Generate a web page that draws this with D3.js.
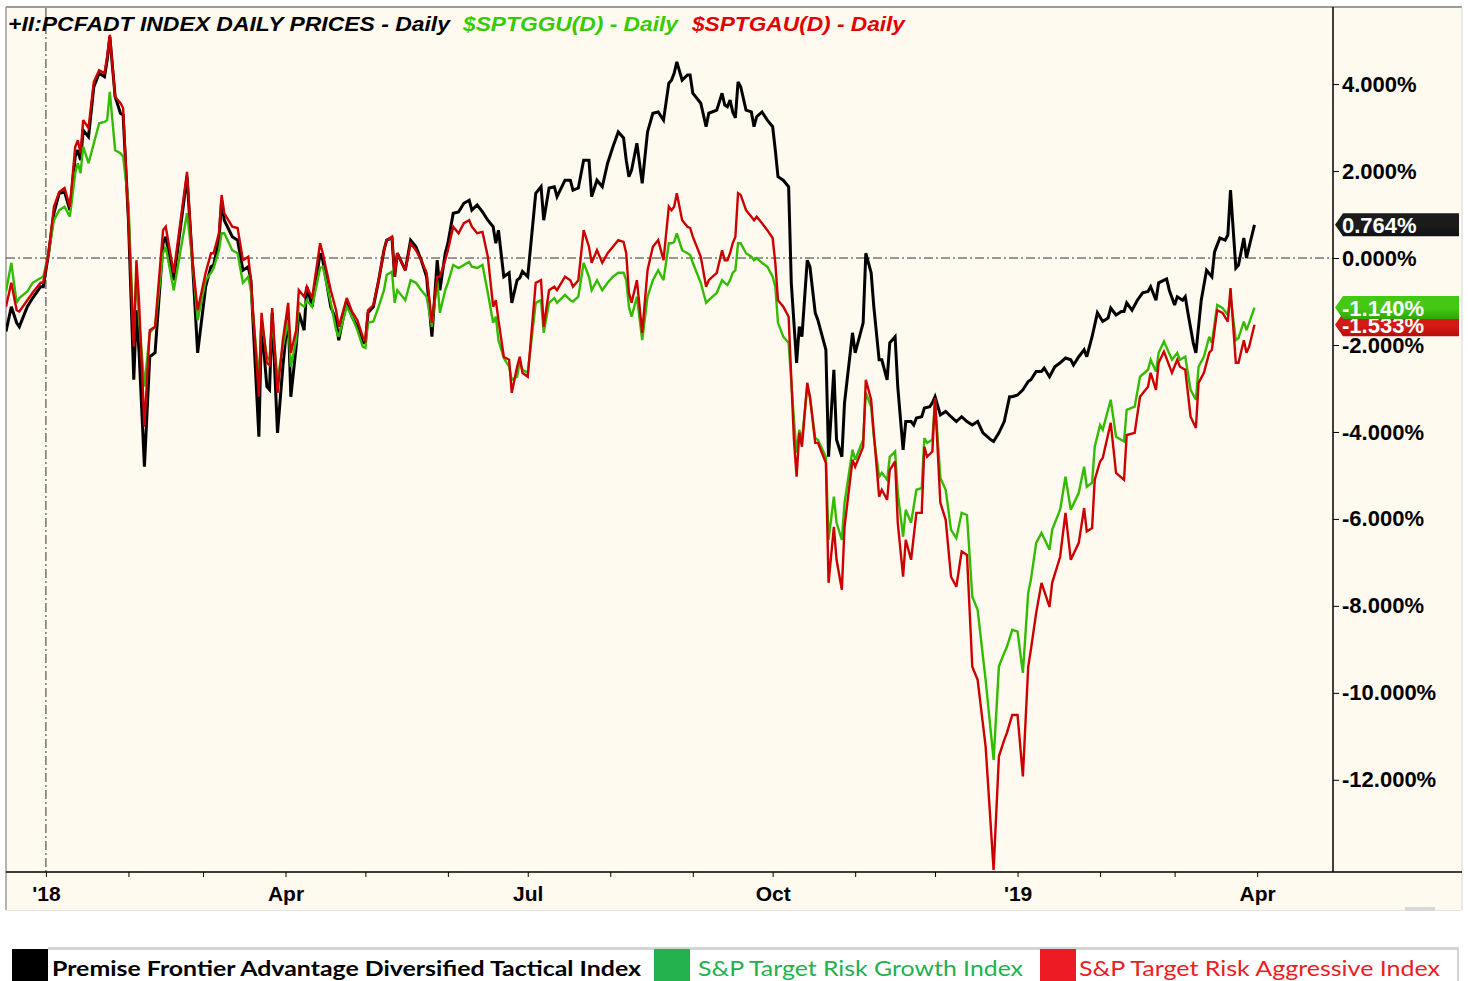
<!DOCTYPE html>
<html>
<head>
<meta charset="utf-8">
<script src="https://cdn.jsdelivr.net/npm/d3@7"></script>
<style>
  body { margin: 0; background: #fff; }
  svg { display: block; }
  .axis text { font-family: "Liberation Sans", Arial, sans-serif; font-weight: bold; fill: #000; }
</style>
</head>
<body>
<svg id="chart" width="1468" height="981"></svg>
<script>
// ---- data (percent change from start) ----
// part 1: shared dates for all three series, Dec 2017 - early Oct 2018
const datesPart1 = [
  "2017-12-17","2017-12-19","2017-12-21","2017-12-22","2017-12-25","2017-12-27","2017-12-30","2017-12-31","2018-01-02","2018-01-04",
  "2018-01-06","2018-01-08","2018-01-10","2018-01-12","2018-01-13","2018-01-14","2018-01-15","2018-01-17","2018-01-19","2018-01-21",
  "2018-01-23","2018-01-24","2018-01-25","2018-01-27","2018-01-29","2018-01-30","2018-02-01","2018-02-03","2018-02-04","2018-02-05",
  "2018-02-07","2018-02-09","2018-02-11","2018-02-14","2018-02-15","2018-02-18","2018-02-23","2018-02-25","2018-02-27","2018-03-02",
  "2018-03-04","2018-03-05","2018-03-07","2018-03-08","2018-03-09","2018-03-12","2018-03-14","2018-03-16","2018-03-18","2018-03-19",
  "2018-03-22","2018-03-23","2018-03-25","2018-03-26","2018-03-27","2018-03-29","2018-03-31","2018-04-02","2018-04-03","2018-04-05",
  "2018-04-06","2018-04-08","2018-04-09","2018-04-11","2018-04-14","2018-04-15","2018-04-18","2018-04-20","2018-04-21","2018-04-24",
  "2018-04-26","2018-04-28","2018-04-30","2018-05-01","2018-05-02","2018-05-04","2018-05-06","2018-05-08","2018-05-09","2018-05-11",
  "2018-05-12","2018-05-13","2018-05-16","2018-05-18","2018-05-20","2018-05-22","2018-05-24","2018-05-26","2018-05-28","2018-05-29",
  "2018-05-31","2018-06-01","2018-06-03","2018-06-05","2018-06-07","2018-06-09","2018-06-10","2018-06-12","2018-06-14","2018-06-16",
  "2018-06-18","2018-06-19","2018-06-20","2018-06-22","2018-06-24","2018-06-25","2018-06-27",
  "2018-06-28","2018-06-29","2018-07-01","2018-07-04","2018-07-06","2018-07-07","2018-07-09","2018-07-11","2018-07-12","2018-07-15",
  "2018-07-17","2018-07-18","2018-07-20","2018-07-22","2018-07-24","2018-07-25","2018-07-27","2018-07-29","2018-07-31","2018-08-02",
  "2018-08-04","2018-08-06","2018-08-07","2018-08-08","2018-08-09","2018-08-11","2018-08-13","2018-08-15","2018-08-17","2018-08-19",
  "2018-08-21","2018-08-23","2018-08-24","2018-08-25","2018-08-26","2018-08-28","2018-08-30","2018-08-31","2018-09-01","2018-09-04",
  "2018-09-06","2018-09-07","2018-09-10","2018-09-12","2018-09-13","2018-09-14","2018-09-15","2018-09-16","2018-09-17","2018-09-18",
  "2018-09-19","2018-09-21","2018-09-23","2018-09-24","2018-09-25","2018-09-27","2018-09-29","2018-10-01","2018-10-02","2018-10-03",
  "2018-10-05","2018-10-07"
];

const pcfadtPart1 = [
  -1.69,-1.12,-1.49,-1.58,-1.12,-0.92,-0.66,-0.66,0.11,1.03,
  1.49,1.52,1.10,2.33,2.48,2.25,2.94,2.79,3.94,4.25,
  4.17,4.55,5.09,3.71,3.33,3.29,0.87,-2.80,-1.20,-2.18,
  -4.80,-2.27,-2.18,0.34,0.49,-0.51,1.87,-0.05,-2.18,-0.66,
  -0.20,-0.16,0.41,1.33,0.87,0.49,0.41,-0.28,-0.20,-0.51,
  -4.11,-1.49,-2.96,-3.03,-1.26,-4.02,-2.50,-1.26,-3.19,-2.04,
  -1.26,-1.66,-0.66,-1.12,0.11,-0.05,-1.12,-1.43,-1.89,-0.97,
  -1.35,-1.58,-1.95,-1.95,-1.26,-1.12,-0.51,0.18,0.41,0.46,
  -0.43,0.11,-0.28,0.41,0.26,-0.05,-0.43,-1.81,-0.05,-0.74,
  0.11,0.34,1.03,1.06,1.26,1.33,1.10,1.22,1.06,0.87,
  0.72,0.34,0.64,-0.43,-0.34,-1.03,-0.51,
  -0.46,-0.31,-0.43,1.49,1.64,0.87,1.61,1.64,1.41,1.79,
  1.79,1.56,1.61,2.25,2.25,1.41,1.79,1.64,2.18,2.56,
  2.90,2.76,2.25,1.87,2.02,2.64,1.72,2.90,3.33,3.36,
  3.17,4.02,4.09,4.25,4.51,4.09,4.21,4.21,3.79,3.56,
  3.02,3.33,3.40,3.79,3.52,3.48,3.63,3.36,3.22,4.05,
  3.94,3.40,3.36,3.02,3.25,3.36,3.17,3.02,2.48,1.87,
  1.79,1.64
];

const sptgguPart1 = [
  -0.77,-0.11,-1.03,-0.92,-0.77,-0.57,-0.46,-0.43,0.11,0.87,
  1.10,1.18,0.95,1.95,2.18,1.95,2.56,2.18,2.64,3.10,
  3.13,3.17,3.82,2.48,2.41,2.33,1.26,-1.89,-0.34,-1.43,
  -2.96,-1.72,-1.58,0.11,0.26,-0.74,1.03,-0.05,-1.43,-0.51,
  -0.34,-0.23,0.18,0.57,0.57,0.18,0.11,-0.57,-0.43,-0.74,
  -2.80,-1.43,-2.27,-2.34,-1.43,-2.80,-2.04,-1.43,-2.50,-1.89,
  -1.03,-1.12,-0.97,-1.12,-0.23,-0.20,-1.03,-1.66,-1.81,-1.12,
  -1.35,-1.66,-2.04,-2.07,-1.49,-1.46,-1.12,-0.74,-0.39,-0.31,
  -1.03,-0.74,-0.97,-0.51,-0.57,-0.74,-0.89,-1.58,-0.51,-1.26,
  -0.74,-0.57,-0.16,-0.23,-0.16,-0.09,-0.20,-0.23,-0.16,-0.80,
  -1.49,-1.35,-1.89,-2.30,-2.50,-2.80,-2.73,
  -2.38,-2.57,-2.64,-1.03,-0.97,-1.72,-1.03,-0.92,-1.03,-0.85,
  -0.97,-1.00,-0.89,-0.11,-0.43,-0.74,-0.51,-0.74,-0.57,-0.43,
  -0.34,-0.34,-0.51,-1.12,-1.35,-0.89,-1.89,-0.89,-0.51,-0.28,
  -0.51,0.34,0.34,0.37,0.57,0.18,0.11,0.07,-0.11,-0.57,
  -1.03,-0.97,-0.80,-0.51,-0.57,-0.62,-0.51,-0.34,-0.28,0.34,
  0.34,0.11,0.03,-0.05,0.00,-0.11,-0.20,-0.43,-0.66,-1.49,
  -1.81,-1.95
];

const sptgauPart1 = [
  -1.12,-0.57,-1.20,-1.23,-0.97,-0.80,-0.57,-0.57,0.11,1.18,
  1.52,1.61,1.18,2.56,2.71,2.41,3.17,2.99,4.05,4.32,
  4.25,4.63,5.13,3.71,3.56,3.45,0.87,-2.04,-0.05,-1.03,
  -3.88,-1.66,-1.58,0.64,0.72,-0.34,1.98,-0.05,-1.20,-0.34,
  0.11,0.11,0.57,1.45,1.03,0.72,0.69,-0.05,0.03,-0.51,
  -3.19,-1.26,-2.41,-2.46,-1.15,-3.10,-1.89,-1.03,-2.18,-1.66,
  -0.74,-0.89,-0.66,-0.92,0.34,0.11,-0.74,-1.20,-1.58,-0.92,
  -1.23,-1.43,-1.81,-1.89,-1.20,-1.08,-0.51,0.18,0.41,0.49,
  -0.43,0.11,-0.28,0.34,0.18,-0.05,-0.34,-1.49,-0.43,-0.43,
  -0.05,0.18,0.72,0.57,0.80,0.87,0.72,0.57,0.60,0.03,
  -1.12,-0.97,-1.43,-2.27,-2.34,-3.10,-2.50,
  -2.27,-2.64,-2.73,-0.57,-0.51,-1.58,-0.74,-0.66,-0.74,-0.43,
  -0.51,-0.66,-0.51,0.64,0.26,-0.11,0.18,-0.11,0.11,0.26,
  0.41,0.37,0.11,-0.80,-1.03,-0.51,-1.72,-0.28,0.26,0.41,
  -0.05,1.18,1.10,1.18,1.49,0.87,0.72,0.69,0.49,0.03,
  -0.66,-0.51,-0.34,0.18,-0.05,-0.05,0.11,0.34,0.49,1.49,
  1.45,1.10,0.95,0.87,0.95,0.80,0.64,0.46,-0.11,-0.97,
  -1.12,-1.35
];

// part 2: Oct 2018 - end of Mar 2019
const datesPcfadtPart2 = [
  "2018-10-08","2018-10-10","2018-10-11","2018-10-12","2018-10-14","2018-10-15","2018-10-17","2018-10-18","2018-10-21","2018-10-22",
  "2018-10-24","2018-10-25","2018-10-27","2018-10-28","2018-10-31","2018-11-01","2018-11-04","2018-11-05","2018-11-07","2018-11-08",
  "2018-11-10","2018-11-11","2018-11-13","2018-11-14","2018-11-16","2018-11-17","2018-11-19","2018-11-20","2018-11-22","2018-11-23",
  "2018-11-24","2018-11-26","2018-11-27","2018-11-29","2018-11-30","2018-12-01","2018-12-03","2018-12-05","2018-12-07","2018-12-09",
  "2018-12-11","2018-12-13","2018-12-15","2018-12-17","2018-12-19","2018-12-22","2018-12-23","2018-12-25","2018-12-27","2018-12-29",
  "2018-12-30","2019-01-01","2019-01-03","2019-01-05","2019-01-06","2019-01-08","2019-01-10","2019-01-11","2019-01-13","2019-01-15",
  "2019-01-17","2019-01-19","2019-01-21","2019-01-22","2019-01-24","2019-01-26","2019-01-27","2019-01-29","2019-01-31","2019-02-02",
  "2019-02-04","2019-02-05","2019-02-07","2019-02-09","2019-02-10","2019-02-11","2019-02-13","2019-02-15","2019-02-17","2019-02-19",
  "2019-02-20","2019-02-22","2019-02-23","2019-02-26","2019-02-27","2019-03-01","2019-03-02","2019-03-04","2019-03-05","2019-03-06",
  "2019-03-08","2019-03-09","2019-03-11","2019-03-13","2019-03-15","2019-03-16","2019-03-18","2019-03-20","2019-03-21","2019-03-22",
  "2019-03-24","2019-03-25","2019-03-27","2019-03-28","2019-03-29","2019-03-31"
];
const pcfadtPart2 = [
  -0.57,-2.41,-1.58,-1.81,-0.05,-0.20,-1.26,-1.43,-2.11,-4.57,
  -2.57,-4.18,-4.57,-3.33,-1.72,-2.18,-1.49,0.11,-0.34,-1.12,
  -2.34,-2.34,-2.80,-1.95,-1.81,-2.96,-4.41,-3.76,-3.76,-3.84,
  -3.68,-3.65,-3.45,-3.42,-3.33,-3.19,-3.61,-3.53,-3.65,-3.76,
  -3.65,-3.76,-3.84,-3.76,-4.02,-4.18,-4.22,-4.02,-3.76,-3.19,
  -3.19,-3.15,-3.03,-2.84,-2.80,-2.61,-2.61,-2.53,-2.73,-2.50,
  -2.41,-2.30,-2.34,-2.46,-2.27,-2.11,-2.27,-1.81,-1.26,-1.46,
  -1.38,-1.15,-1.31,-1.23,-1.23,-1.03,-1.20,-0.97,-0.80,-0.77,
  -0.66,-0.97,-0.57,-0.48,-0.74,-1.08,-0.89,-0.97,-0.89,-1.26,
  -1.95,-2.18,-0.97,-0.28,-0.43,0.14,0.46,0.41,0.53,1.56,
  -0.23,-0.16,0.46,0.00,0.26,0.764
];

const datesSpPart2 = [
  "2018-10-09","2018-10-10","2018-10-11","2018-10-12","2018-10-14","2018-10-15","2018-10-17","2018-10-18","2018-10-21","2018-10-22",
  "2018-10-24","2018-10-25","2018-10-27","2018-10-28","2018-10-31","2018-11-01","2018-11-04","2018-11-05","2018-11-07","2018-11-08",
  "2018-11-10","2018-11-11","2018-11-13","2018-11-14","2018-11-16","2018-11-17","2018-11-19","2018-11-20","2018-11-22","2018-11-24",
  "2018-11-26","2018-11-27","2018-11-28","2018-11-30","2018-12-01","2018-12-03","2018-12-05","2018-12-07","2018-12-09","2018-12-11",
  "2018-12-13","2018-12-15","2018-12-17","2018-12-20","2018-12-23","2018-12-25","2018-12-27","2018-12-28","2018-12-30","2019-01-01",
  "2019-01-03","2019-01-05","2019-01-06","2019-01-08","2019-01-10","2019-01-13","2019-01-14","2019-01-17","2019-01-19","2019-01-21",
  "2019-01-24","2019-01-26","2019-01-27","2019-01-29","2019-01-30","2019-02-01","2019-02-02","2019-02-05","2019-02-07","2019-02-10",
  "2019-02-11","2019-02-14","2019-02-16","2019-02-19","2019-02-20","2019-02-22","2019-02-23","2019-02-25","2019-02-28","2019-03-02",
  "2019-03-03","2019-03-05","2019-03-07","2019-03-09","2019-03-10","2019-03-12","2019-03-14","2019-03-15","2019-03-17","2019-03-19",
  "2019-03-21","2019-03-22","2019-03-24","2019-03-25","2019-03-27","2019-03-28","2019-03-29","2019-03-31"
];
const sptgguPart2 = [
  -3.72,-4.48,-3.95,-4.18,-2.96,-3.19,-4.14,-4.18,-4.57,-6.48,
  -5.49,-6.09,-6.48,-5.63,-4.41,-4.64,-4.18,-3.10,-3.42,-4.11,
  -5.03,-4.94,-5.10,-4.57,-4.45,-5.40,-6.41,-5.79,-6.09,-5.33,
  -5.29,-4.14,-4.25,-4.18,-3.26,-5.06,-5.33,-6.25,-6.44,-5.86,
  -5.91,-7.79,-8.09,-9.70,-11.54,-9.39,-9.08,-8.94,-8.55,-8.59,
  -9.54,-7.70,-7.40,-6.55,-6.32,-6.71,-6.25,-5.79,-5.03,-5.79,
  -5.40,-4.80,-5.26,-5.17,-4.34,-3.84,-3.95,-3.26,-4.11,-4.22,
  -3.49,-3.42,-2.73,-2.57,-2.34,-2.61,-2.18,-1.92,-2.34,-2.18,
  -2.34,-2.27,-3.03,-3.26,-2.50,-2.27,-1.81,-1.95,-1.08,-1.15,
  -1.31,-0.89,-1.89,-1.84,-1.46,-1.66,-1.49,-1.140
];
const sptgauPart2 = [
  -4.18,-5.03,-4.02,-4.34,-2.87,-3.19,-4.25,-4.25,-4.71,-7.47,
  -6.18,-6.94,-7.63,-6.18,-4.64,-4.80,-4.34,-2.80,-3.26,-4.02,
  -5.49,-5.33,-5.56,-4.87,-4.68,-6.09,-7.33,-6.48,-6.94,-5.86,
  -5.86,-4.34,-4.57,-4.45,-3.22,-5.63,-6.02,-7.33,-7.56,-6.75,
  -6.83,-9.40,-9.70,-11.23,-14.07,-11.46,-11.08,-10.92,-10.51,-10.51,
  -11.92,-9.40,-9.01,-8.16,-7.47,-8.02,-7.47,-6.87,-5.86,-6.94,
  -6.55,-5.75,-6.29,-6.21,-5.10,-4.68,-4.60,-3.79,-4.94,-5.10,
  -4.07,-4.02,-3.19,-2.96,-2.64,-3.03,-2.41,-2.15,-2.64,-2.34,
  -2.50,-2.57,-3.65,-3.91,-2.87,-2.64,-2.18,-2.11,-1.20,-1.26,
  -1.46,-0.69,-2.41,-2.41,-1.89,-2.18,-2.04,-1.533
];

const yTicks = [4, 2, 0, -2, -4, -6, -8, -10, -12];
const monthLabels = ["'", "", "", "Apr", "", "", "Jul", "", "", "Oct", "", ""];
const headerParts = ["+II:PCFADT INDEX DAILY PRICES - Daily", "$SPTGGU(D) - Daily", "$SPTGAU(D) - Daily"];
const legendLabels = ["Premise Frontier Advantage Diversified Tactical Index", "S&P Target Risk Growth Index", "S&P Target Risk Aggressive Index"];

// ---- build ----
const parse = d3.timeParse("%Y-%m-%d");
const zip = (ds, vs) => ds.map((d, i) => [parse(d), vs[i]]);

const seriesList = [
  { name: "pcfadt", color: "#000000", width: 3, tag: "#1b1b1b", tag2: "#111111",
    data: zip(datesPart1, pcfadtPart1).concat(zip(datesPcfadtPart2, pcfadtPart2)) },
  { name: "sptggu", color: "#33bb00", width: 2.4, tag: "#44c814", tag2: "#2ea400",
    data: zip(datesPart1, sptgguPart1).concat(zip(datesSpPart2, sptgguPart2)) },
  { name: "sptgau", color: "#cc0000", width: 2.4, tag: "#d41a14", tag2: "#b80e0a",
    data: zip(datesPart1, sptgauPart1).concat(zip(datesSpPart2, sptgauPart2)) }
];

const svg = d3.select("#chart");
const plotL = 6, plotR = 1333, plotT = 8, plotB = 872;

const x = d3.scaleTime()
  .domain([new Date(2017, 11, 17), new Date(2019, 3, 29, 12)])
  .range([plotL, plotR]);
const y = d3.scaleLinear().domain([-14.12, 5.75]).range([plotB, plotT]);

// background panel
svg.append("rect").attr("x", 6).attr("y", 7).attr("width", 1456).attr("height", 903).attr("fill", "#fffaef");
svg.append("line").attr("x1", 6).attr("x2", 1462).attr("y1", 7).attr("y2", 7).attr("stroke", "#9a9a9a").attr("stroke-width", 2);
svg.append("line").attr("x1", 6).attr("x2", 6).attr("y1", 7).attr("y2", 910).attr("stroke", "#9a9a9a").attr("stroke-width", 1.5);
svg.append("line").attr("x1", 1462).attr("x2", 1462).attr("y1", 7).attr("y2", 910).attr("stroke", "#d8d8d8").attr("stroke-width", 1);
svg.append("line").attr("x1", 6).attr("x2", 1462).attr("y1", 910.5).attr("y2", 910.5).attr("stroke", "#e4e4e4").attr("stroke-width", 1);
svg.append("rect").attr("x", 1405).attr("y", 907).attr("width", 30).attr("height", 4).attr("fill", "#d8d8d8");

// reference lines
const dashes = "9,3,2,3";
svg.append("line").attr("x1", plotL).attr("x2", plotR).attr("y1", y(0)).attr("y2", y(0))
  .attr("stroke", "#333").attr("stroke-width", 1).attr("stroke-dasharray", dashes);
svg.append("line").attr("x1", x(new Date(2018, 0, 1))).attr("x2", x(new Date(2018, 0, 1)))
  .attr("y1", plotT).attr("y2", plotB)
  .attr("stroke", "#333").attr("stroke-width", 1).attr("stroke-dasharray", dashes);

// lines
svg.append("clipPath").attr("id", "clip").append("rect")
  .attr("x", plotL).attr("y", plotT - 2).attr("width", plotR - plotL).attr("height", plotB - plotT + 2);

const line = d3.line().x(d => x(d[0])).y(d => y(d[1]));
svg.append("g").attr("clip-path", "url(#clip)")
  .selectAll("path")
  .data(seriesList)
  .join("path")
  .attr("d", s => line(s.data))
  .attr("fill", "none")
  .attr("stroke", s => s.color)
  .attr("stroke-width", s => s.width)
  .attr("stroke-linejoin", "miter")
  .attr("stroke-miterlimit", 3);

// right axis
const yAxis = svg.append("g").attr("class", "axis")
  .attr("transform", `translate(${plotR},0)`)
  .call(d3.axisRight(y).tickValues(yTicks).tickSize(6).tickSizeOuter(0).tickPadding(3)
    .tickFormat(d => d.toFixed(3) + "%"));
yAxis.select(".domain").attr("stroke", "#000").attr("stroke-width", 1.5).attr("d", `M0,${plotT - 1}V${plotB}`);
yAxis.selectAll(".tick line").attr("stroke", "#000");
yAxis.selectAll("text").style("font-size", "22px");

// bottom axis
svg.append("line").attr("x1", 6).attr("x2", 1462).attr("y1", plotB).attr("y2", plotB).attr("stroke", "#000").attr("stroke-width", 1.5);
const xAxis = svg.append("g").attr("class", "axis")
  .attr("transform", `translate(0,${plotB})`)
  .call(d3.axisBottom(x).ticks(d3.timeMonth.every(1)).tickSize(5).tickPadding(9)
    .tickFormat(d => {
      const lab = monthLabels[d.getMonth()];
      return d.getMonth() === 0 ? lab + d3.timeFormat("%y")(d) : lab;
    }));
xAxis.select(".domain").remove();
xAxis.selectAll(".tick line").attr("stroke", "#000");
xAxis.selectAll("text").style("font-size", "21px");

// last-value tags
const tagOrder = [seriesList[2], seriesList[1], seriesList[0]];
const defs = svg.append("defs");
tagOrder.forEach(s => {
  const g = defs.append("linearGradient").attr("id", "grad-" + s.name).attr("x1", 0).attr("x2", 0).attr("y1", 0).attr("y2", 1);
  g.append("stop").attr("offset", "0%").attr("stop-color", s.tag);
  g.append("stop").attr("offset", "55%").attr("stop-color", s.tag);
  g.append("stop").attr("offset", "100%").attr("stop-color", s.tag2);
});
const tags = svg.append("g").selectAll("g").data(tagOrder).join("g")
  .attr("transform", s => `translate(${plotR + 2},${y(s.data[s.data.length - 1][1])})`);
tags.append("path")
  .attr("d", "M0,0L8,-11.5H124V11.5H8Z")
  .attr("fill", s => `url(#grad-${s.name})`);
tags.append("text")
  .attr("x", 7).attr("dy", "0.36em")
  .attr("fill", "#fff")
  .style("font-family", "'Liberation Sans', Arial, sans-serif")
  .style("font-weight", "bold").style("font-size", "22px")
  .text(s => s.data[s.data.length - 1][1].toFixed(3) + "%");

// header
const headerColors = ["#000000", "#33cc00", "#e00000"];
const headerX = [8, 463, 692];
const headerW = [442, 215, 213];
svg.append("g").selectAll("text").data(headerParts).join("text")
  .attr("x", (d, i) => headerX[i]).attr("y", 31)
  .attr("textLength", (d, i) => headerW[i]).attr("lengthAdjust", "spacingAndGlyphs")
  .attr("fill", (d, i) => headerColors[i])
  .style("font-family", "'Liberation Sans', Arial, sans-serif")
  .style("font-weight", "bold").style("font-style", "italic").style("font-size", "20px")
  .text(d => d);

// legend
const legendColors = ["#000000", "#22b14c", "#ed1c24"];
const legendBoxX = [12, 654, 1040];
const legendTextX = [52, 698, 1079];
const legendTextW = [589, 325, 361];
const legend = svg.append("g");
legend.append("line").attr("x1", 48).attr("x2", 1458).attr("y1", 948.5).attr("y2", 948.5).attr("stroke", "#d4d4d4").attr("stroke-width", 3);
legend.append("line").attr("x1", 1458).attr("x2", 1458).attr("y1", 947).attr("y2", 981).attr("stroke", "#d4d4d4").attr("stroke-width", 2);
legend.selectAll("rect").data(legendLabels).join("rect")
  .attr("x", (d, i) => legendBoxX[i]).attr("y", 949).attr("width", 36).attr("height", 32)
  .attr("fill", (d, i) => legendColors[i]);
legend.selectAll("text").data(legendLabels).join("text")
  .attr("x", (d, i) => legendTextX[i]).attr("y", 976)
  .attr("textLength", (d, i) => legendTextW[i]).attr("lengthAdjust", "spacingAndGlyphs")
  .attr("fill", (d, i) => legendColors[i])
  .style("font-family", "Lato, 'Open Sans', sans-serif")
  .style("font-weight", (d, i) => i === 0 ? "bold" : "normal")
  .style("font-size", "21px")
  .text(d => d);
</script>
</body>
</html>
